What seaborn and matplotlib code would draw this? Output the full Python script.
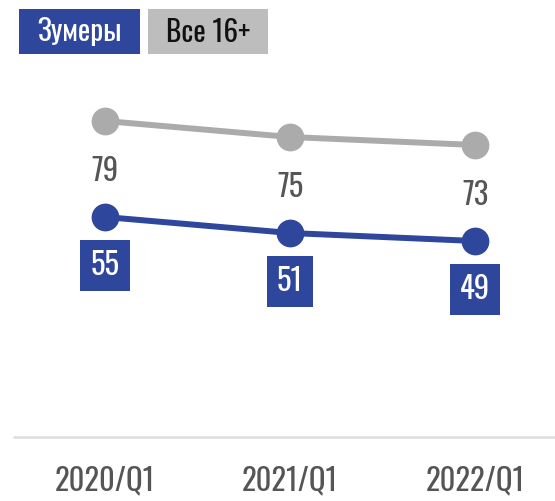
import pandas as pd
import matplotlib.pyplot as plt
from matplotlib.patches import Rectangle
import seaborn as sns

quarters = ["2020/Q1", "2021/Q1", "2022/Q1"]
zoomers = [55, 51, 49]
all_16 = [79, 75, 73]
series_names = ["Все 16+", "Зумеры"]

BLUE = "#2E469C"
GRAY = "#ABABAB"
TEXT = "#555555"

df = pd.DataFrame({
    "quarter": quarters * 2,
    "x": list(range(len(quarters))) * 2,
    "value": all_16 + zoomers,
    "series": [series_names[0]] * 3 + [series_names[1]] * 3,
})

sns.set_theme(style="white")
plt.rcParams['font.family'] = ['Oswald', 'DejaVu Sans']

fig = plt.figure(figsize=(5.55, 5.01), dpi=100)
ax = fig.add_axes([14 / 555, 64 / 501, 541 / 555, 360 / 501])

sns.lineplot(
    data=df, x="x", y="value", hue="series",
    palette={series_names[0]: GRAY, series_names[1]: BLUE},
    marker="o", markersize=20, markeredgewidth=0,
    linewidth=4.3, legend=False, ax=ax,
)

ax.set_xlim(-0.492, 2.432)
ax.set_ylim(0, 90)
ax.axhline(0, color="#DDDDDD", linewidth=1.8, clip_on=False, zorder=0)

for i, v in enumerate(all_16):
    ax.annotate(str(v), (i, v), xytext=(0, -36), textcoords="offset points",
                ha="center", va="center", fontsize=22, color=TEXT)

for i, v in enumerate(zoomers):
    ax.annotate(str(v), (i, v), xytext=(0, -35), textcoords="offset points",
                ha="center", va="center", fontsize=22, color="white",
                bbox=dict(boxstyle="square,pad=0.33", fc=BLUE, ec="none"))

ax.set_xticks(range(len(quarters)))
ax.set_xticklabels(quarters, fontsize=22, color=TEXT)
ax.tick_params(axis="x", length=0, pad=20)
ax.set_yticks([])
ax.set_xlabel("")
ax.set_ylabel("")
sns.despine(ax=ax, left=True, bottom=True)

# legend boxes at top
fig.patches.append(Rectangle((19 / 555, 1 - 54 / 501), 121 / 555, 45 / 501,
                             transform=fig.transFigure, fc=BLUE, ec="none"))
fig.patches.append(Rectangle((148 / 555, 1 - 54 / 501), 120 / 555, 45 / 501,
                             transform=fig.transFigure, fc="#BDBDBD", ec="none"))
fig.text(79.5 / 555, 1 - 32 / 501, series_names[1], ha="center", va="center",
         fontsize=21, color="white")
fig.text(208 / 555, 1 - 32 / 501, series_names[0], ha="center", va="center",
         fontsize=21, color="#111111")

fig.savefig("out.png", dpi=100)
